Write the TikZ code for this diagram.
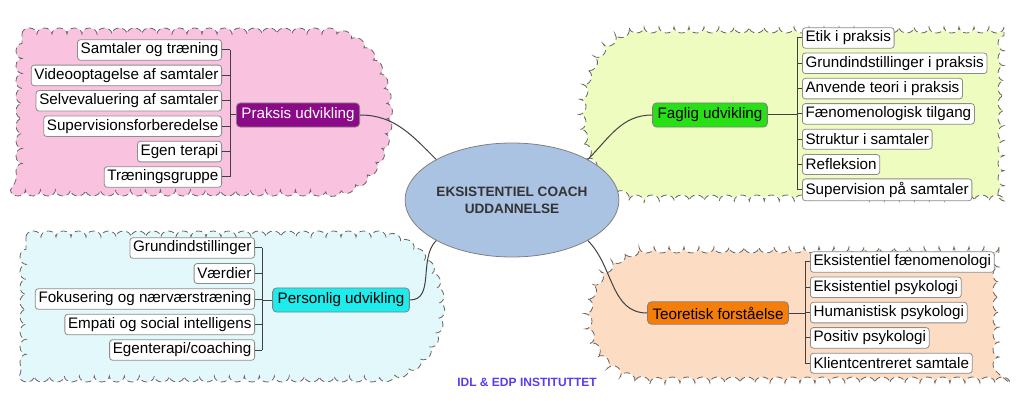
\documentclass[tikz,border=0pt]{standalone}
\usepackage{fontspec}
\setmainfont{Liberation Sans}
\usetikzlibrary{shapes.geometric,decorations.pathmorphing}
\definecolor{pinkc}{HTML}{F9C2DE}
\definecolor{greenc}{HTML}{EEFCC0}
\definecolor{bluec}{HTML}{E2F8FA}
\definecolor{peachc}{HTML}{FCDCC2}
\definecolor{hubc}{HTML}{ABC3E3}
\begin{document}
\begin{tikzpicture}[x=0.5pt, y=-0.5pt, font=\fontsize{7.6}{9}\selectfont,
    cloud/.style={draw=black!60, fill=#1, densely dashed, decorate, decoration={bumps, segment length=15pt, amplitude=3pt}},
    leaf/.style={draw=black!45, fill=white, rounded corners=1.5pt, inner sep=1.6pt, minimum height=10pt},
    topic/.style={draw=black!50, rounded corners=2pt, inner sep=2.5pt, minimum height=11pt},
    link/.style={black!75, line width=0.5pt}]
    \useasboundingbox (0,0) rectangle (1024,401);
    % clouds
    \path[cloud=pinkc] (22,34) -- (330,34) .. controls (405,42) and (405,188) .. (330,190) -- (22,190) -- cycle;
    \path[cloud=greenc] (1004,27) -- (640,27) .. controls (560,37) and (560,193) .. (640,201) -- (1004,201) -- cycle;
    \path[cloud=bluec] (26,237) -- (380,237) .. controls (458,247) and (458,370) .. (380,376) -- (26,376) -- cycle;
    \path[cloud=peachc] (999,247) -- (650,247) .. controls (565,257) and (565,378) .. (650,383) -- (999,383) -- cycle;
    % hub
    \node[ellipse, draw=black!50, fill=hubc, inner sep=0pt, minimum width=90pt, minimum height=57pt, align=center,
          font=\fontsize{6.8}{8.5}\selectfont\bfseries, text=black!80] (hub) at (512,200) {EKSISTENTIEL COACH\\UDDANNELSE};
    % topics
    \node[topic, fill={rgb,255:red,140;green,10;blue,135}, text=white] (praksis) at (298,115) {Praksis udvikling};
    \node[topic, fill={rgb,255:red,40;green,225;blue,20}] (faglig) at (710,115) {Faglig udvikling};
    \node[topic, fill={rgb,255:red,30;green,235;blue,235}] (personlig) at (341,300) {Personlig udvikling};
    \node[topic, fill={rgb,255:red,245;green,125;blue,10}] (teoretisk) at (718,313) {Teoretisk forståelse};
    \draw[link] (praksis.east) to[out=0, in=135] (hub.north west);
    \draw[link] (faglig.west) to[out=180, in=45] (hub.north east);
    \draw[link] (personlig.east) to[out=0, in=225] (hub.south west);
    \draw[link] (teoretisk.west) to[out=180, in=315] (hub.south east);
    % leaves
    \foreach \t [count=\i, evaluate=\i as \y using 50+25.4*(\i-1)] in {Samtaler og træning, Videooptagelse af samtaler,
        Selvevaluering af samtaler, Supervisionsforberedelse, Egen terapi, Træningsgruppe}
      {\node[leaf, anchor=east] (pl\i) at (222,\y) {\t};
       \draw[link] (pl\i.east) -- (230,\y);}
    \draw[link] (230,50) -- (230,177) (praksis.west) -- (230,115);
    \foreach \t [count=\i, evaluate=\i as \y using 38+25.3*(\i-1)] in {Etik i praksis, Grundindstillinger i praksis,
        Anvende teori i praksis, Fænomenologisk tilgang, Struktur i samtaler, Refleksion, Supervision på samtaler}
      {\node[leaf, anchor=west] (fl\i) at (802,\y) {\t};
       \draw[link] (fl\i.west) -- (797,\y);}
    \draw[link] (797,38) -- (797,190) (faglig.east) -- (797,115);
    \foreach \t [count=\i, evaluate=\i as \y using 248+25.5*(\i-1)] in {Grundindstillinger, Værdier,
        Fokusering og nærværstræning, Empati og social intelligens, Egenterapi/coaching}
      {\node[leaf, anchor=east] (ul\i) at (255,\y) {\t};
       \draw[link] (ul\i.east) -- (262,\y);}
    \draw[link] (262,248) -- (262,350) (personlig.west) -- (262,300);
    \foreach \t [count=\i, evaluate=\i as \y using 262+25.3*(\i-1)] in {Eksistentiel fænomenologi, Eksistentiel psykologi,
        Humanistisk psykologi, Positiv psykologi, Klientcentreret samtale}
      {\node[leaf, anchor=west] (tl\i) at (810,\y) {\t};
       \draw[link] (tl\i.west) -- (805,\y);}
    \draw[link] (805,262) -- (805,363) (teoretisk.east) -- (805,313);
    \node[font=\fontsize{6}{7}\selectfont\bfseries, text={rgb,255:red,90;green,60;blue,240}] (footer) at (527,382) {IDL \& EDP INSTITUTTET};
\end{tikzpicture}
\end{document}
